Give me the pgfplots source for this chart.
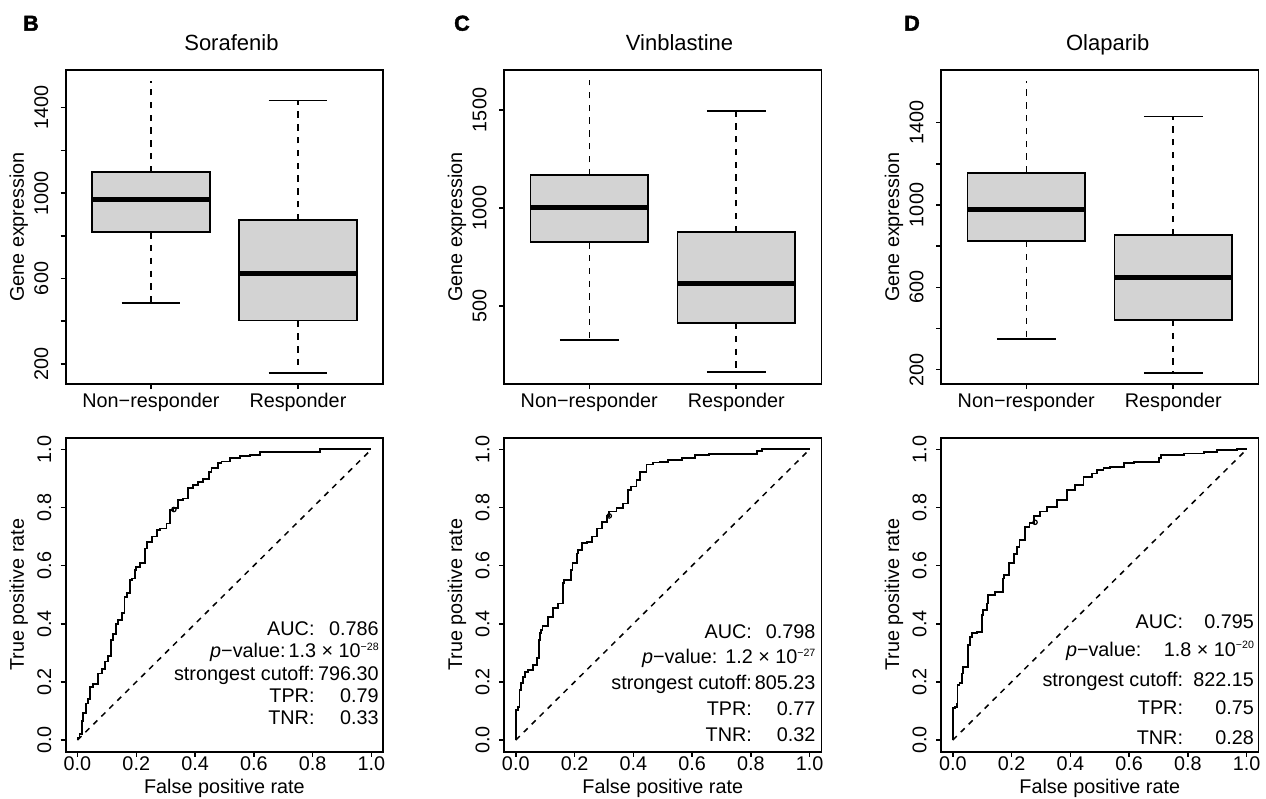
\documentclass[border=0pt]{standalone}
\usepackage{pgfplots}
\pgfplotsset{compat=1.18}
\usepackage{fontspec}
\setmainfont{Liberation Sans}
\newfontfamily\heavyfont[FakeBold=2]{Liberation Sans Bold}
\definecolor{boxgray}{HTML}{D3D3D3}
\newcommand{\fs}{\fontsize{9.9}{12}\selectfont}
\newcommand{\sups}[1]{\raisebox{3.7pt}{\fontsize{5.3}{6}\selectfont #1}}
% Non-responder box at x=1 (no upper staple)
\newcommand{\boxNR}[5]{%
  \addplot[black, line width=0.75pt, dash pattern=on 3.2pt off 3.2pt] coordinates {(1,#2) (1,#1)};
  \addplot[black, line width=0.75pt, dash pattern=on 3.2pt off 3.2pt] coordinates {(1,#4) (1,#5)};
  \addplot[black, line width=0.9pt] coordinates {(0.8,#1) (1.2,#1)};
  \addplot[draw=black, fill=boxgray, line width=0.9pt] coordinates {(0.6,#2) (1.4,#2) (1.4,#4) (0.6,#4)} --cycle;
  \addplot[black, line width=2.5pt] coordinates {(0.6,#3) (1.4,#3)};
}
% Responder box at x=2
\newcommand{\boxR}[5]{%
  \addplot[black, line width=0.75pt, dash pattern=on 3.2pt off 3.2pt] coordinates {(2,#2) (2,#1)};
  \addplot[black, line width=0.75pt, dash pattern=on 3.2pt off 3.2pt] coordinates {(2,#4) (2,#5)};
  \addplot[black, line width=0.9pt] coordinates {(1.8,#1) (2.2,#1)};
  \addplot[black, line width=0.9pt] coordinates {(1.8,#5) (2.2,#5)};
  \addplot[draw=black, fill=boxgray, line width=0.9pt] coordinates {(1.6,#2) (2.4,#2) (2.4,#4) (1.6,#4)} --cycle;
  \addplot[black, line width=2.5pt] coordinates {(1.6,#3) (2.4,#3)};
}
\tikzset{ann/.style={font=\fs, inner sep=0pt, anchor=base east},
  letter/.style={anchor=base west, inner sep=0pt, font=\fontsize{10.8}{12}\selectfont\heavyfont}}
\pgfplotsset{
  base/.style={
    anchor=north west, scale only axis, width=158.75pt, height=157pt,
    axis line style={line width=0.95pt},
    tick pos=left, tick align=outside,
    major tick length=2.5pt,
    every tick/.style={black, line width=0.75pt},
    /pgf/number format/assume math mode=true,
    tick label style={font=\fs, inner sep=0pt},
    label style={font=\fs},
    every axis y label/.style={at={(axis description cs:-0.148,0.5)}, rotate=90, anchor=center},
  },
  topbox/.style={base, xmin=0.42, xmax=2.58, xtick={1,2},
    xticklabels={Non−responder,Responder}, ylabel={Gene expression},
    every axis title/.style={font=\fontsize{11}{13}\selectfont, anchor=base},
    xticklabel style={yshift=-2pt},
    yticklabel style={xshift=-6pt, rotate=90, anchor=south},
  },
  roc/.style={base, xmin=-0.04, xmax=1.04, ymin=-0.04, ymax=1.04,
    xtick={0,0.2,0.4,0.6,0.8,1}, xticklabels={0.0,0.2,0.4,0.6,0.8,1.0},
    ytick={0,0.2,0.4,0.6,0.8,1}, yticklabels={0.0,0.2,0.4,0.6,0.8,1.0},
    xlabel={False positive rate}, ylabel={True positive rate},
    every axis x label/.style={at={(axis description cs:0.5,-0.1166)}, anchor=center},
    yticklabel style={xshift=-4.5pt, rotate=90, anchor=south},
  },
  curve/.style={black, line width=0.9pt, const plot mark right},
}
\begin{document}
\fs
\begin{tikzpicture}
\path[use as bounding box] (0,0) rectangle (633pt,-399.5pt);
\node[letter] at (11.4pt,-15.35pt) {B};
\node[letter] at (226.9pt,-15.35pt) {C};
\node[letter] at (451.9pt,-15.35pt) {D};

% ---------- top row ----------
\begin{axis}[topbox, at={(32.85pt,-35pt)}, ymin=106, ymax=1576,
  ytick={200,400,...,1400}, yticklabels={200,,600,,1000,,1400},
  title={Sorafenib}, title style={at={(axis description cs:0.522,1.0637)}}]
  \boxNR{484}{817}{968}{1098}{1525}
  \boxR{159}{403}{621}{873}{1433}
\end{axis}

\begin{axis}[topbox, at={(252pt,-35pt)}, ymin=102, ymax=1704,
  ytick={500,1000,1500}, yticklabels={500,1000,1500},
  title={Vinblastine}, title style={at={(axis description cs:0.553,1.0637)}}]
  \boxNR{327}{825}{1000}{1168}{1651}
  \boxR{163}{413}{616}{878}{1493}
\end{axis}

\begin{axis}[topbox, at={(470.5pt,-35pt)}, ymin=130, ymax=1656,
  ytick={200,400,...,1400}, yticklabels={200,,600,,1000,,1400},
  title={Olaparib}, title style={at={(axis description cs:0.525,1.0637)}}]
  \boxNR{347}{825}{979}{1157}{1601}
  \boxR{185}{441}{647}{854}{1430}
\end{axis}

% ---------- bottom row ----------
\begin{axis}[roc, at={(32.85pt,-218.85pt)}]
  \addplot[black, line width=0.75pt, dash pattern=on 2.8pt off 2.8pt] coordinates {(0,0) (1,1)};
  \addplot[curve] coordinates {(0,0) (0.007,0.006) (0.015,0.02) (0.020,0.065) (0.029,0.092) (0.037,0.126) (0.043,0.14) (0.054,0.183) (0.071,0.193) (0.083,0.229) (0.095,0.245) (0.105,0.270) (0.115,0.29) (0.122,0.344) (0.130,0.365) (0.139,0.400) (0.151,0.413) (0.160,0.436) (0.168,0.493) (0.179,0.505) (0.185,0.550) (0.196,0.556) (0.199,0.585) (0.213,0.596) (0.230,0.608) (0.236,0.659) (0.253,0.682) (0.270,0.700) (0.281,0.722) (0.303,0.728) (0.315,0.745) (0.326,0.791) (0.343,0.797) (0.358,0.826) (0.377,0.831) (0.394,0.866) (0.410,0.878) (0.428,0.889) (0.448,0.897) (0.456,0.923) (0.479,0.935) (0.490,0.952) (0.519,0.958) (0.553,0.969) (0.587,0.978) (0.621,0.980) (0.649,0.992) (0.824,0.992) (0.887,1.0) (1.0,1.0)};
  \addplot[only marks, mark=o, mark size=1.1pt, mark options={line width=0.6pt}] coordinates {(0.328,0.793)};
  \node[ann] at (rel axis cs:0.785,0.3710) {AUC:};
  \node[ann] at (rel axis cs:0.987,0.3710) {0.786};
  \node[ann] at (rel axis cs:0.694,0.2997) {\textit{p}−value:};
  \node[ann] at (rel axis cs:0.987,0.2997) {1.3 × 10\sups{−28}};
  \node[ann] at (rel axis cs:0.785,0.2283) {strongest cutoff:};
  \node[ann] at (rel axis cs:0.987,0.2283) {796.30};
  \node[ann] at (rel axis cs:0.785,0.1570) {TPR:};
  \node[ann] at (rel axis cs:0.987,0.1570) {0.79};
  \node[ann] at (rel axis cs:0.785,0.0857) {TNR:};
  \node[ann] at (rel axis cs:0.987,0.0857) {0.33};
\end{axis}

\begin{axis}[roc, at={(252pt,-218.85pt)}]
  \addplot[black, line width=0.75pt, dash pattern=on 2.8pt off 2.8pt] coordinates {(0,0) (1,1)};
  \addplot[curve] coordinates {(0,0) (0.001,0.011) (0.002,0.04) (0.008,0.103) (0.013,0.115) (0.019,0.172) (0.024,0.195) (0.031,0.218) (0.042,0.235) (0.059,0.241) (0.073,0.258) (0.078,0.281) (0.082,0.344) (0.086,0.367) (0.091,0.378) (0.110,0.392) (0.127,0.424) (0.144,0.453) (0.161,0.470) (0.165,0.539) (0.189,0.55) (0.193,0.585) (0.207,0.608) (0.211,0.642) (0.224,0.654) (0.241,0.679) (0.258,0.682) (0.275,0.700) (0.292,0.728) (0.309,0.751) (0.318,0.771) (0.343,0.786) (0.366,0.797) (0.383,0.814) (0.392,0.860) (0.411,0.872) (0.423,0.894) (0.445,0.923) (0.468,0.948) (0.491,0.955) (0.519,0.957) (0.565,0.963) (0.610,0.969) (0.656,0.980) (0.701,0.984) (0.821,0.984) (0.838,0.995) (0.877,1.0) (1,1)};
  \addplot[only marks, mark=o, mark size=1.1pt, mark options={line width=0.6pt}] coordinates {(0.318,0.771)};
  \node[ann] at (rel axis cs:0.782,0.3618) {AUC:};
  \node[ann] at (rel axis cs:0.982,0.3618) {0.798};
  \node[ann] at (rel axis cs:0.6735,0.2799) {\textit{p}−value:};
  \node[ann] at (rel axis cs:0.982,0.2799) {1.2 × 10\sups{−27}};
  \node[ann] at (rel axis cs:0.782,0.1978) {strongest cutoff:};
  \node[ann] at (rel axis cs:0.982,0.1978) {805.23};
  \node[ann] at (rel axis cs:0.782,0.1159) {TPR:};
  \node[ann] at (rel axis cs:0.982,0.1159) {0.77};
  \node[ann] at (rel axis cs:0.782,0.0338) {TNR:};
  \node[ann] at (rel axis cs:0.982,0.0338) {0.32};
\end{axis}

\begin{axis}[roc, at={(470.5pt,-218.85pt)}]
  \addplot[black, line width=0.75pt, dash pattern=on 2.8pt off 2.8pt] coordinates {(0,0) (1,1)};
  \addplot[curve] coordinates {(0,0) (0.002,0.011) (0.002,0.069) (0.008,0.109) (0.014,0.115) (0.016,0.126) (0.023,0.189) (0.031,0.195) (0.036,0.229) (0.053,0.252) (0.059,0.327) (0.065,0.355) (0.082,0.369) (0.099,0.373) (0.102,0.430) (0.116,0.447) (0.121,0.470) (0.144,0.499) (0.170,0.510) (0.175,0.556) (0.190,0.568) (0.207,0.608) (0.218,0.640) (0.227,0.665) (0.247,0.688) (0.261,0.734) (0.275,0.748) (0.298,0.771) (0.320,0.786) (0.355,0.803) (0.389,0.826) (0.417,0.860) (0.445,0.877) (0.474,0.906) (0.491,0.917) (0.513,0.929) (0.536,0.935) (0.582,0.940) (0.616,0.954) (0.701,0.957) (0.707,0.969) (0.786,0.980) (0.854,0.986) (0.900,0.992) (0.968,0.998) (1,1)};
  \addplot[only marks, mark=o, mark size=1.1pt, mark options={line width=0.6pt}] coordinates {(0.280,0.749)};
  \node[ann] at (rel axis cs:0.7635,0.3936) {AUC:};
  \node[ann] at (rel axis cs:0.987,0.3936) {0.795};
  \node[ann] at (rel axis cs:0.6325,0.3045) {\textit{p}−value:};
  \node[ann] at (rel axis cs:0.987,0.3045) {1.8 × 10\sups{−20}};
  \node[ann] at (rel axis cs:0.7635,0.2080) {strongest cutoff:};
  \node[ann] at (rel axis cs:0.987,0.2080) {822.15};
  \node[ann] at (rel axis cs:0.7635,0.1175) {TPR:};
  \node[ann] at (rel axis cs:0.987,0.1175) {0.75};
  \node[ann] at (rel axis cs:0.7635,0.0220) {TNR:};
  \node[ann] at (rel axis cs:0.987,0.0220) {0.28};
\end{axis}
\end{tikzpicture}
\end{document}
